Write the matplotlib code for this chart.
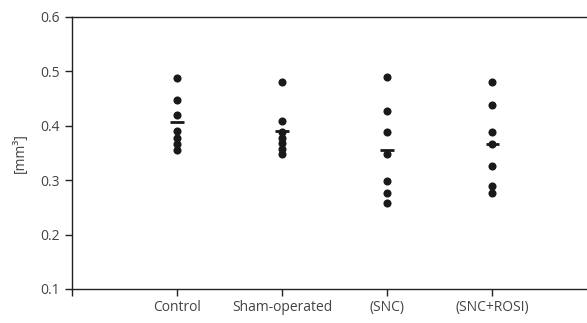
import numpy as np
import matplotlib.pyplot as plt

plt.rcParams['font.family'] = ['Open Sans', 'DejaVu Sans']

groups = ['Control', 'Sham-operated', '(SNC)', '(SNC+ROSI)']
control = [0.488, 0.447, 0.419, 0.391, 0.377, 0.366, 0.356]
sham = [0.481, 0.408, 0.389, 0.378, 0.368, 0.358, 0.349]
snc = [0.489, 0.428, 0.388, 0.348, 0.298, 0.277, 0.258]
snc_rosi = [0.480, 0.438, 0.388, 0.366, 0.327, 0.289, 0.276]
yticks = [0.1, 0.2, 0.3, 0.4, 0.5, 0.6]

series = [control, sham, snc, snc_rosi]
txt = '#444444'

fig = plt.figure(figsize=(5.87, 3.23), dpi=100)
ax = fig.add_axes([72/587, 34/323, 515/587, 272/323])

for i, vals in enumerate(series):
    x = i + 1
    ax.scatter([x]*len(vals), vals, s=34, color='#1a1a1a', zorder=3, linewidths=0)
    m = np.mean(vals)
    ax.plot([x-0.065, x+0.065], [m, m], color='#1a1a1a', lw=2, zorder=4,
            solid_capstyle='butt')

ax.set_xlim(0, 4.9)
ax.set_ylim(0.1, 0.6)
ax.set_yticks(yticks)
ax.set_yticklabels([f'{t:.1f}' for t in yticks])
ax.set_xticks([0, 1, 2, 3, 4])
ax.set_xticklabels([''] + groups)
ax.set_ylabel('[mm³]', color=txt, fontsize=10, labelpad=9)

for s in ['left', 'top', 'bottom']:
    ax.spines[s].set_color('#222222')
    ax.spines[s].set_linewidth(1.0)
ax.spines['right'].set_visible(False)
ax.tick_params(axis='both', direction='out', length=5, width=1, color='#222222',
               labelcolor=txt, labelsize=10)
ax.tick_params(axis='x', pad=3)

fig.savefig('out.png', dpi=100)
